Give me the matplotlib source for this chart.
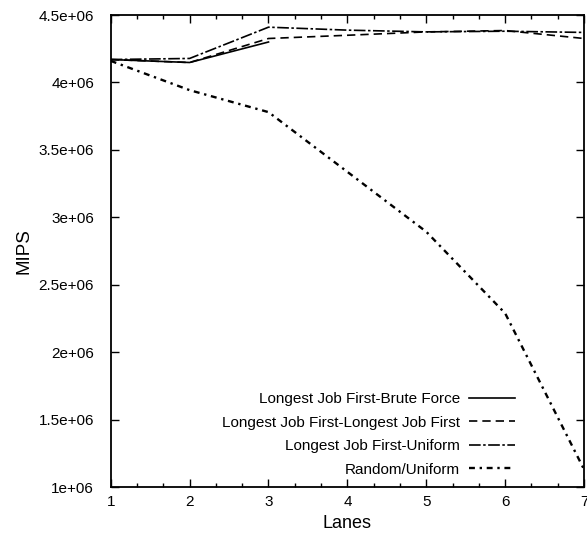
import matplotlib
matplotlib.use("Agg")
import matplotlib.pyplot as plt
from matplotlib.ticker import MultipleLocator, FuncFormatter

plt.rcParams['font.family'] = ['Liberation Sans', 'DejaVu Sans']

lanes = [1, 2, 3, 4, 5, 6, 7]
brute_lanes = [1, 2, 3]
brute_force = [4.17e6, 4.148e6, 4.30e6]
ljf_ljf = [4.17e6, 4.148e6, 4.326e6, 4.35e6, 4.375e6, 4.385e6, 4.326e6]
ljf_uniform = [4.17e6, 4.178e6, 4.41e6, 4.388e6, 4.375e6, 4.38e6, 4.371e6]
random_uniform = [4.16e6, 3.943e6, 3.78e6, 3.337e6, 2.893e6, 2.288e6, 1.13e6]

labels = ["Longest Job First-Brute Force",
          "Longest Job First-Longest Job First",
          "Longest Job First-Uniform",
          "Random/Uniform"]

fig = plt.figure(figsize=(5.87, 5.37), dpi=100)
ax = fig.add_axes([0.1886, 0.0931, 0.995 - 0.1886, 0.972 - 0.0931])

lw = 1.2
ax.plot(brute_lanes, brute_force, color='black', lw=lw, ls='-', label=labels[0])
ax.plot(lanes, ljf_ljf, color='black', lw=lw, ls=(0, (5, 3)), label=labels[1])
ax.plot(lanes, ljf_uniform, color='black', lw=lw, ls=(0, (7, 1.5, 1.5, 1.5)), label=labels[2])
ax.plot(lanes, random_uniform, color='black', lw=1.7, ls=(0, (2.5, 2, 1, 2)), label=labels[3])

ax.set_xlim(1, 7)
ax.set_ylim(1e6, 4.5e6)
ax.xaxis.set_major_locator(MultipleLocator(1))
ax.xaxis.set_minor_locator(MultipleLocator(1/3))
ax.yaxis.set_major_locator(MultipleLocator(5e5))
ax.yaxis.set_major_formatter(FuncFormatter(lambda v, p: '%g' % v))
ax.tick_params(axis='both', which='both', direction='in', top=True, right=True,
               labelsize=11, width=1)
ax.tick_params(which='major', length=6)
ax.tick_params(which='minor', length=3)
ax.tick_params(axis='x', pad=6)
ax.tick_params(axis='y', pad=12)
for s in ax.spines.values():
    s.set_linewidth(1.3)

ax.set_xlabel("Lanes", fontsize=13, labelpad=4)
ax.set_ylabel("MIPS", fontsize=13.5, labelpad=4)

leg = ax.legend(loc='lower right', bbox_to_anchor=(0.0, 0.022, 0.854, 0.3),
                frameon=False, fontsize=11, markerfirst=False,
                handlelength=3.0, handletextpad=0.6, labelspacing=0.62,
                borderaxespad=0.0, borderpad=0.0)
for t in leg.get_texts():
    t.set_ha('right')

fig.savefig("out.png", dpi=100)
